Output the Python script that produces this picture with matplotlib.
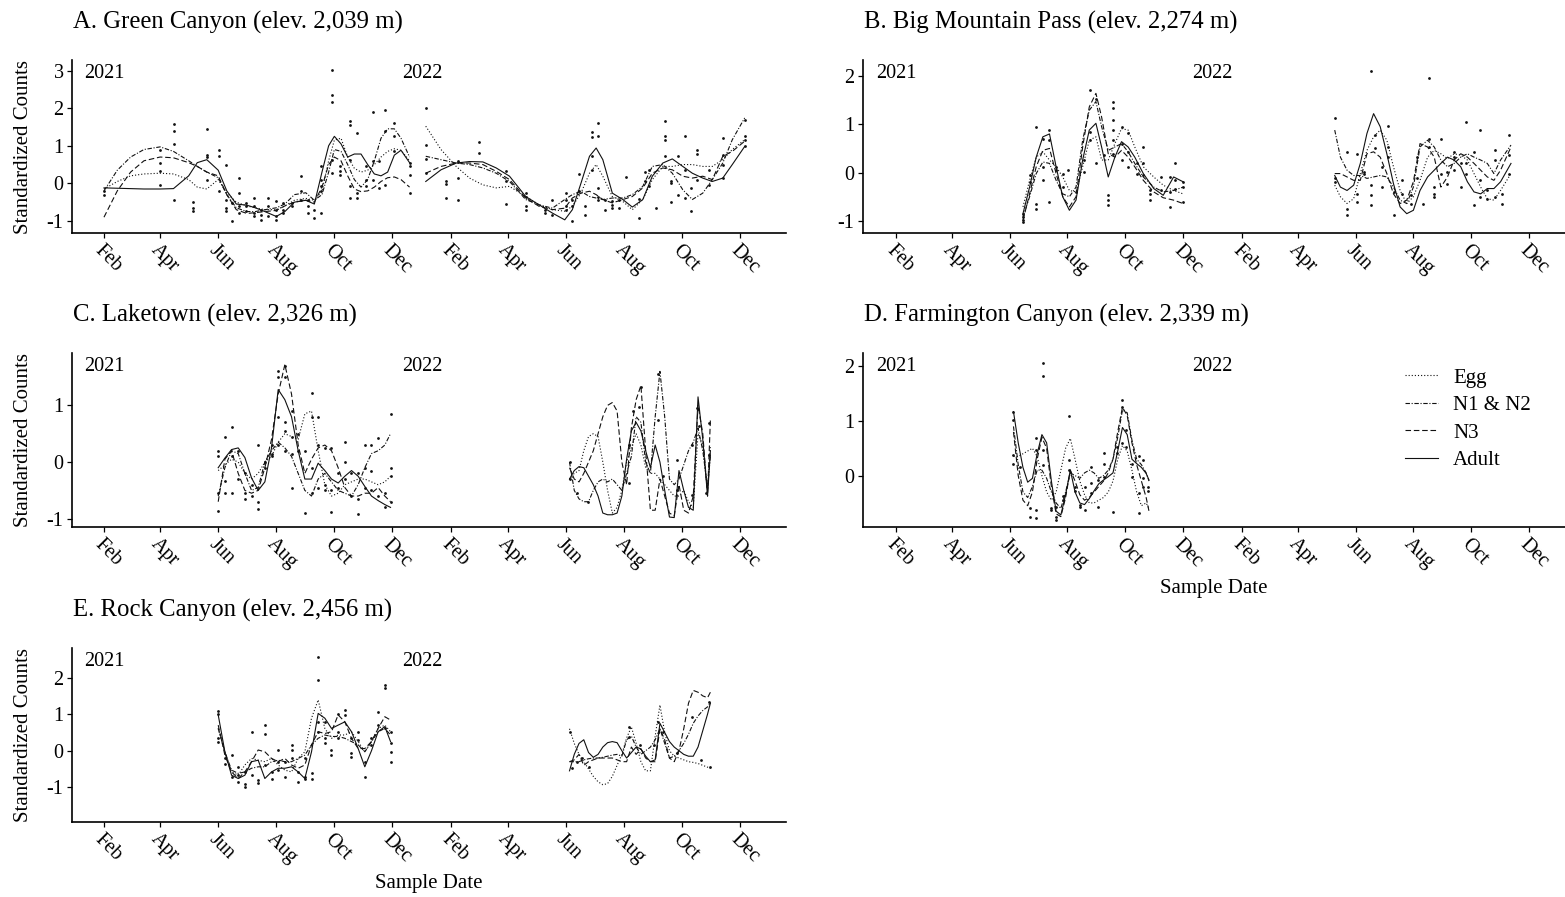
import pandas as pd
import matplotlib
matplotlib.use("Agg")
import matplotlib.pyplot as plt
import matplotlib.dates as mdates
from matplotlib.lines import Line2D

plt.rcParams["font.family"] = ["Liberation Serif", "DejaVu Serif"]
plt.rcParams["axes.unicode_minus"] = False

STAGES = ["Egg", "N1 & N2", "N3", "Adult"]

# ---------------- A. Green Canyon ----------------
A_days_21 = ["02-01", "02-15", "03-01", "03-15", "04-01", "04-15", "05-01", "05-10", "05-20", "06-01",
             "06-10", "06-20", "07-01", "07-10", "07-20", "08-01", "08-10", "08-20", "09-01", "09-10",
             "09-18", "09-25", "10-01", "10-08", "10-15", "10-22", "10-29", "11-05", "11-12", "11-19",
             "11-26", "12-03", "12-10", "12-19"]
A_egg_21 = [-0.15, 0.05, 0.2, 0.25, 0.27, 0.25, 0.1, -0.1, -0.15, 0.1,
            -0.25, -0.5, -0.6, -0.65, -0.7, -0.7, -0.6, -0.45, -0.4, -0.45,
            -0.2, 0.6, 1.15, 1.2, 0.7, 0.4, 0.3, 0.35, 0.5, 0.7,
            0.85, 0.92, 0.88, 0.6]
A_n12_21 = [-0.2, 0.35, 0.7, 0.9, 0.97, 0.85, 0.6, 0.45, 0.3, 0.15,
            -0.3, -0.65, -0.75, -0.75, -0.7, -0.65, -0.55, -0.3, -0.25, -0.45,
            -0.3, 0.3, 0.9, 0.85, 0.5, 0.1, -0.1, 0.1, 0.6, 1.2,
            1.45, 1.45, 1.2, 0.7]
A_n3_21 = [-0.9, -0.2, 0.3, 0.6, 0.7, 0.68, 0.55, 0.45, 0.3, 0.2,
           -0.3, -0.7, -0.8, -0.78, -0.75, -0.72, -0.6, -0.5, -0.45, -0.5,
           -0.1, 0.5, 0.7, 0.6, 0.2, -0.15, -0.22, -0.2, -0.1, 0.05,
           0.15, 0.17, 0.1, -0.1]
A_adult_21 = [-0.12, -0.13, -0.14, -0.15, -0.15, -0.14, 0.2, 0.55, 0.63, 0.35,
              -0.2, -0.55, -0.58, -0.65, -0.75, -0.88, -0.75, -0.5, -0.45, -0.55,
              0.3, 1.0, 1.25, 1.05, 0.7, 0.78, 0.78, 0.5, 0.25, 0.2,
              0.3, 0.75, 0.88, 0.55]

A_days_22 = ["01-05", "01-21", "02-06", "02-20", "03-06", "03-20", "04-03", "04-20", "05-04", "05-18",
             "05-31", "06-08", "06-17", "06-26", "07-03", "07-10", "07-20", "07-31", "08-10", "08-21",
             "08-31", "09-11", "09-21", "10-02", "10-12", "10-23", "11-02", "11-13", "11-23", "12-06"]
A_egg_22 = [1.52, 0.9, 0.45, 0.14, -0.04, -0.12, -0.08, -0.35, -0.57, -0.7,
            -0.74, -0.61, -0.26, 0.27, 0.5, 0.19, -0.35, -0.48, -0.7, -0.43,
            0.1, 0.45, 0.45, 0.5, 0.5, 0.45, 0.45, 0.63, 0.9, 1.16]
A_n12_22 = [0.72, 0.63, 0.54, 0.5, 0.41, 0.27, 0.05, -0.43, -0.57, -0.66,
            -0.43, -0.3, -0.21, -0.35, -0.39, -0.43, -0.39, -0.39, -0.3, -0.08,
            0.45, 0.5, 0.27, -0.17, -0.43, -0.26, 0.1, 0.54, 1.16, 1.74]
A_n3_22 = [0.27, 0.45, 0.54, 0.54, 0.5, 0.32, 0.1, -0.39, -0.61, -0.7,
           -0.66, -0.39, -0.26, -0.21, -0.3, -0.43, -0.52, -0.43, -0.35, -0.12,
           0.27, 0.41, 0.36, 0.19, 0.14, 0.19, 0.1, 0.72, 0.85, 1.12]
A_adult_22 = [0.05, 0.36, 0.54, 0.58, 0.57, 0.41, 0.19, -0.35, -0.57, -0.79,
              -0.97, -0.7, 0.0, 0.72, 0.94, 0.63, -0.26, -0.43, -0.63, -0.43,
              0.19, 0.54, 0.65, 0.45, 0.27, 0.14, 0.05, 0.14, 0.5, 0.98]

A_pt_days_21 = ["02-01", "04-01", "04-16", "05-06", "05-20", "06-02", "06-09", "06-16", "06-23", "06-30",
                "07-09", "07-16", "07-23", "08-01", "08-08", "08-18", "08-27", "09-03", "09-10", "09-17",
                "09-29", "10-07", "10-17", "10-25", "11-03", "11-11", "11-17", "11-23", "12-03", "12-19"]
A_pt_vals_21 = [[-0.21, -0.30], [0.9, 0.54, 0.32, -0.05], [1.59, 1.40, 1.05, -0.43], [-0.5, -0.66, -0.74],
                [1.45, 0.76, 0.70, 0.08], [0.9, 0.74, -0.21], [0.5, -0.43, -0.66, -0.74], [-1.01, -0.52],
                [0.14, -0.26, -0.61, -0.79], [-0.52, -0.61, -0.74], [-0.39, -0.61, -0.79, -0.88],
                [-0.7, -0.83, -0.97], [-0.39, -0.61, -0.88], [-0.48, -0.7, -0.88, -0.97], [-0.52, -0.7, -0.79],
                [-0.52, -0.61], [0.2, -0.21, -0.43], [-0.43, -0.61, -0.79], [-0.7, -0.92],
                [0.45, 0.1, -0.08, -0.21, -0.79], [3.02, 2.36, 2.15, 0.63, 0.27], [0.45, 0.34, 0.23],
                [1.65, 1.56, 0.63, -0.08, -0.39], [1.34, -0.26, -0.39], [0.45, 0.1, -0.08], [1.89, 0.59, 0.1],
                [0.59, -0.12], [1.96, 1.38, -0.04], [1.6, 1.25, 0.85], [0.54, 0.45, 0.23, -0.26]]
A_pt_days_22 = ["01-05", "01-26", "02-08", "03-02", "03-30", "04-20", "05-10", "05-18", "06-01", "06-08",
                "06-15", "06-21", "06-29", "07-05", "07-12", "07-20", "07-27", "08-03", "08-17", "08-23",
                "08-28", "09-04", "09-13", "09-20", "09-27", "10-04", "10-11", "10-17", "10-30", "11-13",
                "12-06"]
A_pt_vals_22 = [[2.0, 1.03, 0.65, 0.27], [0.05, -0.01, -0.39], [0.59, 0.14, -0.43], [1.09, 0.81],
                [0.32, 0.05, -0.54], [-0.26, -0.35, -0.61, -0.72], [-0.7, -0.79], [-0.43, -0.83],
                [-0.26, -0.43, -0.61, -0.7], [-0.43, -0.61, -1.01], [0.25, -0.21], [-0.61, -0.83],
                [1.36, 1.23, 0.72, 0.36], [1.6, 1.27, -0.12, -0.35, -0.43], [-0.43, -0.7],
                [-0.48, -0.57, -0.66], [-0.43, -0.66], [0.17], [-0.42, -0.92], [0.29, 0.05], [0.35, -0.08],
                [-0.66], [1.65, 1.25, 1.16, 0.74], [0.05, 0.01, -0.5], [0.74, -0.3], [1.27, 0.36, -0.39],
                [-0.12, -0.74], [0.9, 0.79, 0.1], [0.36, -0.04], [1.21, 0.76, 0.5, 0.14],
                [1.69, 1.27, 1.16, 0.98]]

# ---------------- B. Big Mountain Pass ----------------
B_days_21 = ["06-15", "06-22", "06-29", "07-06", "07-13", "07-20", "07-27", "08-03", "08-10", "08-17",
             "08-24", "08-31", "09-06", "09-13", "09-20", "09-27", "10-04", "10-11", "10-20", "10-31",
             "11-10", "11-21", "12-01"]
B_egg_21 = [-0.71, -0.16, 0.32, 0.43, 0.26, 0.12, -0.09, -0.37, -0.4, 0.12,
            0.67, 0.74, 0.26, 0.26, 0.6, 0.91, 0.88, 0.53, 0.12, -0.09,
            -0.26, -0.37, -0.44]
B_n12_21 = [-0.92, -0.5, -0.02, 0.22, 0.19, -0.16, -0.44, -0.5, -0.3, 0.67,
            1.29, 1.47, 0.95, 0.46, 0.53, 0.6, 0.43, 0.19, -0.09, -0.3,
            -0.4, -0.37, -0.3]
B_n3_21 = [-0.99, -0.44, 0.12, 0.46, 0.5, -0.02, -0.5, -0.71, -0.5, 0.53,
           1.36, 1.64, 1.15, 0.39, 0.32, 0.46, 0.32, 0.12, -0.16, -0.4,
           -0.52, -0.57, -0.64]
B_adult_21 = [-0.85, -0.3, 0.32, 0.74, 0.8, 0.12, -0.5, -0.78, -0.57, 0.26,
              0.88, 1.02, 0.53, -0.09, 0.32, 0.64, 0.53, 0.32, -0.02, -0.33,
              -0.47, -0.09, -0.19]

B_days_22 = ["05-10", "05-16", "05-23", "05-30", "06-06", "06-13", "06-20", "06-27", "07-04", "07-11",
             "07-18", "07-25", "08-01", "08-08", "08-16", "08-23", "08-30", "09-06", "09-13", "09-20",
             "09-27", "10-04", "10-11", "10-18", "10-25", "11-01", "11-12"]
B_egg_22 = [-0.26, -0.5, -0.64, -0.54, -0.02, 0.46, 0.74, 0.88, 0.67, 0.12,
            -0.37, -0.64, -0.5, -0.16, 0.32, 0.46, 0.39, 0.29, 0.39, 0.36,
            0.26, -0.02, -0.3, -0.54, -0.57, -0.37, -0.02]
B_n12_22 = [0.88, 0.32, 0.05, -0.06, -0.06, -0.12, -0.09, -0.06, -0.09, -0.3,
            -0.57, -0.64, -0.3, 0.53, 0.67, 0.53, 0.26, 0.12, 0.19, 0.32,
            0.39, 0.32, 0.26, 0.19, -0.02, 0.26, 0.57]
B_n3_22 = [-0.02, -0.02, -0.09, -0.16, -0.16, 0.39, 0.43, 0.32, -0.02, -0.44,
           -0.64, -0.57, -0.19, 0.6, 0.53, 0.32, -0.3, -0.09, 0.26, 0.39,
           0.32, 0.19, 0.05, -0.09, -0.16, 0.05, 0.53]
B_adult_22 = [-0.06, -0.3, -0.37, -0.26, 0.19, 0.81, 1.22, 0.95, 0.39, -0.23,
              -0.71, -0.85, -0.78, -0.37, -0.09, 0.05, 0.19, 0.32, 0.26, 0.12,
              -0.19, -0.4, -0.44, -0.33, -0.33, -0.19, 0.19]

B_pt_days_21 = ["06-15", "06-22", "06-29", "07-06", "07-13", "07-20", "07-27", "08-02", "08-10", "08-18",
                "08-25", "08-31", "09-08", "09-13", "09-18", "09-27", "10-04", "10-13", "10-20", "10-27",
                "11-08", "11-17", "11-22", "12-01"]
B_pt_vals_21 = [[-0.85, -0.92, -0.99, -1.02], [-0.06, -0.19], [0.95, -0.64, -0.75], [0.7, 0.12, -0.16],
                [0.89, 0.67, -0.61], [0.12, 0.05], [-0.02, -0.3], [0.05], [-0.4], [0.26, 0.01],
                [1.71, 0.84, 0.67], [1.53, 0.19], [0.36], [-0.47, -0.57, -0.68],
                [1.47, 1.33, 1.08, 0.88, 0.67, 0.39], [0.95, 0.6, 0.26], [0.81, 0.43, 0.12], [0.19, -0.02],
                [0.53, 0.19, -0.06], [-0.37, -0.44, -0.57], [-0.09, -0.37], [-0.09, -0.4, -0.71],
                [0.19, -0.16, -0.33], [-0.19, -0.3, -0.61]]
B_pt_days_22 = ["05-10", "05-23", "06-03", "06-10", "06-17", "06-22", "06-29", "07-05", "07-12", "07-20",
                "07-29", "08-05", "08-11", "08-17", "08-23", "08-30", "09-06", "09-13", "09-20", "09-26",
                "10-04", "10-10", "10-18", "10-26", "11-02", "11-10"]
B_pt_vals_22 = [[1.12, -0.12, -0.19], [0.43, -0.75, -0.88], [0.39, -0.44, -0.61], [0.01, -0.02],
                [2.1, -0.26, -0.47, -0.68], [0.77, 0.5], [0.12, -0.3], [0.96, 0.53, 0.32], [-0.88, -0.4],
                [-0.16, -0.44], [-0.47, -0.64], [0.32, -0.12], [-0.64], [1.96, 0.7, 0.53],
                [-0.3, -0.44, -0.5], [0.7, -0.02], [0.01, -0.23], [0.43, 0.32, 0.05], [0.19, -0.3],
                [1.05, 0.19, -0.02], [0.43, -0.68], [0.88, -0.16, -0.5], [-0.37, -0.54], [0.46, 0.26, -0.5],
                [-0.44, -0.64], [0.77, 0.36, -0.02]]

# ---------------- C. Laketown ----------------
C_days_21 = ["06-01", "06-08", "06-15", "06-22", "06-29", "07-06", "07-13", "07-20", "07-27", "08-03",
             "08-10", "08-17", "08-24", "08-31", "09-07", "09-14", "09-21", "09-28", "10-05", "10-12",
             "10-19", "10-26", "11-02", "11-09", "11-16", "11-23", "11-29"]
C_egg_21 = [-0.15, -0.05, 0.05, 0.0, -0.2, -0.3, -0.2, 0.0, 0.1, 0.35,
            0.5, 0.45, 0.4, 0.85, 0.9, 0.2, -0.4, -0.6, -0.55, -0.4,
            -0.35, -0.3, -0.3, -0.35, -0.4, -0.35, -0.25]
C_n12_21 = [-0.6, -0.1, 0.2, 0.15, -0.2, -0.5, -0.45, 0.0, 0.2, 0.35,
            0.25, 0.1, -0.2, -0.5, -0.6, -0.3, -0.2, -0.35, -0.5, -0.55,
            -0.6, -0.4, -0.1, 0.15, 0.2, 0.3, 0.5]
C_n3_21 = [-0.7, 0.05, 0.2, -0.2, -0.5, -0.55, -0.5, -0.1, 0.4, 1.2,
           1.72, 1.2, 0.3, -0.2, 0.05, 0.25, 0.3, 0.2, -0.1, -0.45,
           -0.6, -0.6, -0.55, -0.55, -0.45, -0.6, -0.7]
C_adult_21 = [-0.1, 0.07, 0.22, 0.25, 0.08, -0.28, -0.5, -0.35, 0.25, 1.28,
              1.1, 0.8, 0.2, -0.3, -0.3, -0.02, -0.15, -0.3, -0.37, -0.25,
              -0.15, -0.25, -0.43, -0.6, -0.68, -0.75, -0.8]

C_days_22 = ["06-05", "06-10", "06-15", "06-20", "06-25", "06-30", "07-05", "07-10", "07-15", "07-20",
             "07-25", "07-30", "08-04", "08-09", "08-14", "08-19", "08-24", "08-29", "09-03", "09-08",
             "09-13", "09-18", "09-23", "09-28", "10-03", "10-08", "10-13", "10-18", "10-23", "10-28",
             "10-31"]
C_egg_22 = [-0.3, -0.2, -0.15, 0.2, 0.45, 0.5, 0.45, 0.0, -0.5, -0.9,
            -0.8, -0.5, 0.0, 0.25, 0.5, 0.3, -0.1, -0.2, -0.2, -0.3,
            -0.4, -0.5, -0.6, -0.6, -0.5, -0.7, -0.8, 0.5, 0.3, -0.5,
            0.3]
C_n12_22 = [0.0, -0.5, -0.65, -0.7, -0.7, -0.5, -0.35, -0.3, -0.35, -0.3,
            -0.4, -0.5, -0.2, 0.1, 0.8, 0.7, 0.0, -0.2, 0.8, 1.6,
            0.8, -0.3, -0.4, -0.3, -0.05, 0.2, 0.35, 0.6, 0.2, -0.45,
            0.1]
C_n3_22 = [-0.1, -0.3, -0.35, -0.2, 0.0, 0.2, 0.5, 0.8, 1.0, 1.05,
           0.9, 0.0, -0.4, 0.6, 1.1, 1.35, 0.2, -0.85, -0.85, -0.3,
           -0.6, -0.9, -0.95, -0.4, -0.85, -0.9, -0.6, 1.0, 0.5, -0.6,
           0.75]
C_adult_22 = [-0.3, -0.15, -0.08, -0.1, -0.25, -0.4, -0.6, -0.9, -0.93, -0.93,
              -0.9, -0.6, 0.05, 0.55, 0.7, 0.55, 0.2, -0.1, 0.3, 0.0,
              -0.5, -0.97, -0.98, -0.15, -0.5, -0.8, -0.85, 1.15, 0.4, -0.6,
              0.2]

C_pt_days_21 = C_days_21
C_pt_vals_21 = [[0.2, 0.1, -0.55, -0.86], [0.45, -0.34, -0.55], [0.62, 0.1, -0.55], [0.2, -0.3],
                [-0.2, -0.55, -0.65], [-0.4, -0.6], [0.3, -0.7, -0.82], [0.0, -0.1], [0.3, 0.15, 0.1],
                [1.6, 1.5, 0.8, 0.3], [1.7, 1.5, 0.7, 0.55, 0.2], [0.9, 0.45, 0.15, -0.45], [0.5, 0.2],
                [0.2, -0.9], [1.22, 0.8, -0.1, -0.55], [0.8, 0.3, -0.45], [0.25, -0.4, -0.5],
                [0.25, -0.5, -0.88], [-0.2, -0.45], [0.35, 0.0, -0.3], [-0.2, -0.6], [-0.2, -0.65, -0.92],
                [0.3, -0.1, -0.45], [0.3, -0.15, -0.5], [0.42, -0.6], [-0.55, -0.8], [0.85, -0.1, -0.25, -0.7]]
C_pt_days_22 = ["06-06", "06-13", "06-24", "08-07", "08-11", "08-17", "08-19", "09-06", "09-11", "09-26",
                "10-12", "10-17", "10-19", "10-26", "10-30"]
C_pt_vals_22 = [[-0.3, 0.0], [-0.55], [-0.7], [-0.37, 0.3], [0.9], [0.98], [1.33], [0.75, 1.55], [-0.25],
                [0.04, -0.49], [-0.58, 0.3], [0.95], [0.63], [-0.55], [0.13, 0.69]]

# ---------------- D. Farmington Canyon ----------------
D_days_21 = ["06-05", "06-10", "06-15", "06-20", "06-25", "06-30", "07-05", "07-10", "07-15", "07-20",
             "07-25", "07-30", "08-04", "08-09", "08-14", "08-19", "08-24", "08-29", "09-03", "09-08",
             "09-13", "09-18", "09-23", "09-28", "10-03", "10-08", "10-13", "10-18", "10-23", "10-26"]
D_egg_21 = [0.35, 0.35, 0.4, 0.45, 0.5, 0.35, 0.0, -0.3, -0.45, -0.3,
            0.1, 0.5, 0.68, 0.3, -0.1, -0.35, -0.5, -0.5, -0.45, -0.4,
            -0.3, -0.1, 0.3, 0.55, 0.45, 0.1, -0.3, -0.55, -0.5, -0.6]
D_n12_21 = [0.9, 0.2, -0.3, -0.4, -0.2, 0.1, 0.1, -0.05, -0.3, -0.5,
            -0.6, -0.3, 0.05, 0.0, -0.05, 0.05, 0.1, 0.05, -0.05, 0.0,
            0.1, 0.3, 0.7, 1.2, 1.15, 0.65, 0.3, 0.2, 0.05, -0.1]
D_n3_21 = [0.8, 0.0, -0.45, -0.55, -0.3, 0.3, 0.7, 0.5, -0.2, -0.7,
           -0.75, -0.4, 0.1, -0.1, -0.35, -0.45, -0.4, -0.3, -0.2, -0.1,
           0.05, 0.3, 0.8, 1.25, 1.1, 0.6, 0.2, -0.1, -0.4, -0.65]
D_adult_21 = [1.17, 0.6, 0.15, -0.12, -0.05, 0.4, 0.75, 0.6, -0.1, -0.65,
              -0.72, -0.35, 0.1, -0.3, -0.5, -0.53, -0.42, -0.28, -0.15, -0.08,
              -0.02, 0.05, 0.45, 0.88, 0.75, 0.3, 0.22, 0.15, 0.04, -0.08]

D_pt_days_21 = ["06-05", "06-12", "06-22", "06-29", "07-06", "07-15", "07-20", "07-27", "08-03", "08-09",
                "08-14", "08-19", "08-26", "09-02", "09-09", "09-18", "09-22", "09-27", "10-02", "10-08",
                "10-15", "10-20", "10-25"]
D_pt_vals_21 = [[1.17, 1.02, 0.38, 0.22], [0.16], [-0.6, -0.75], [0.68, 0.47, -0.63, -0.78],
                [2.06, 1.82, 0.47, 0.19], [-0.6, -0.63], [-0.57, -0.75, -0.81], [-0.44, -0.38],
                [1.09, 0.29, 0.1], [-0.2, -0.29], [-0.53, -0.57], [-0.2, -0.63], [0.16, -0.14, -0.32],
                [-0.57, -0.08], [0.41, 0.22, -0.02], [-0.66], [0.53, 0.41], [1.38, 1.26, 0.59],
                [0.83, 0.53], [0.22, -0.02], [0.35, -0.32, -0.69], [0.29, -0.05, -0.2], [-0.2, -0.29]]

# ---------------- E. Rock Canyon ----------------
E_days_21 = C_days_21
E_egg_21 = [0.61, -0.03, -0.58, -0.67, -0.39, -0.21, -0.26, -0.3, -0.21, -0.39,
            -0.53, -0.58, -0.21, -0.03, 0.89, 1.39, 0.61, 0.34, 0.43, 0.43,
            0.52, 0.25, -0.03, 0.25, 0.61, 0.7, 0.52]
E_n12_21 = [0.61, -0.03, -0.53, -0.62, -0.58, -0.48, -0.44, -0.44, -0.3, -0.26,
            -0.3, -0.3, -0.21, -0.12, 0.16, 0.34, 0.43, 0.39, 0.39, 0.34,
            0.25, 0.16, -0.03, 0.25, 0.52, 0.61, 0.43]
E_n3_21 = [0.7, -0.12, -0.58, -0.76, -0.58, -0.3, 0.02, -0.03, -0.21, -0.3,
           -0.21, -0.39, -0.48, -0.39, 0.16, 0.52, 0.47, 0.52, 0.98, 0.79,
           0.34, 0.06, 0.06, 0.25, 0.61, 0.93, 0.84]
E_adult_21 = [0.98, -0.03, -0.67, -0.76, -0.67, -0.3, -0.26, -0.76, -0.58, -0.48,
              -0.48, -0.44, -0.58, -0.76, -0.03, 1.02, 0.89, 0.61, 0.7, 0.79,
              0.52, 0.06, -0.44, 0.0, 0.52, 0.66, 0.25]

E_days_22 = C_days_22
E_egg_22 = [0.6, 0.2, -0.1, -0.3, -0.5, -0.7, -0.85, -0.93, -0.9, -0.7,
            -0.4, -0.1, 0.35, 0.65, 0.2, -0.3, -0.55, -0.55, 0.4, 1.25,
            0.5, 0.0, -0.15, -0.2, -0.25, -0.3, -0.32, -0.35, -0.4, -0.45,
            -0.48]
E_n12_22 = [-0.3, -0.3, -0.3, -0.25, -0.22, -0.2, -0.2, -0.18, -0.15, -0.12,
            -0.1, -0.15, 0.3, 0.4, 0.1, -0.1, 0.0, 0.1, 0.3, 0.6,
            0.2, -0.2, -0.15, 0.0, 0.2, 0.45, 0.75, 0.95, 1.1, 1.2,
            1.3]
E_n3_22 = [-0.3, -0.25, -0.1, -0.4, -0.3, -0.25, -0.2, -0.2, -0.2, -0.2,
           -0.25, -0.3, -0.3, 0.1, -0.1, 0.05, -0.2, -0.3, -0.3, 0.6,
           0.3, -0.2, -0.3, 0.0, 0.6, 1.3, 1.65, 1.6, 1.5, 1.45,
           1.6]
E_adult_22 = [-0.55, -0.1, 0.2, 0.3, -0.05, -0.18, -0.1, 0.1, 0.22, 0.25,
              0.22, 0.0, -0.2, -0.05, 0.1, 0.05, -0.15, -0.3, -0.25, 0.75,
              0.5, 0.25, 0.1, 0.0, -0.1, -0.15, -0.15, 0.1, 0.55, 1.0,
              1.3]

E_pt_days_21 = E_days_21
E_pt_vals_21 = [[1.09, 1.0, 0.34, 0.25], [-0.21, -0.35], [-0.12, -0.71], [-0.44, -0.67, -0.85],
                [-0.9, -0.99, -0.58], [0.52, -0.67], [-0.8, -0.89], [0.7, 0.47, -0.39], [-0.58, -0.76],
                [0.02, -0.3, -0.53], [-0.3, -0.71], [0.16, 0.02, -0.21], [-0.58, -0.85], [-0.21, -0.71, -0.76],
                [-0.62, -0.76], [2.56, 1.94, 0.79, 0.52], [0.79, 0.34, 0.2], [0.02, -0.12], [1.0, 0.52, 0.34],
                [1.11, 0.98], [0.34, -0.07, -0.16], [0.52, 0.29], [-0.71, -0.3], [0.34, 0.16], [1.07, 0.7],
                [1.8, 1.71, 0.61], [0.52, 0.2, -0.03, -0.3]]
E_pt_days_22 = ["06-06", "06-08", "06-13", "06-18", "06-26", "08-07", "08-18", "09-02", "09-06", "09-11",
                "09-26", "10-12", "10-21", "10-30", "10-31"]
E_pt_vals_22 = [[0.52], [-0.48], [-0.3], [-0.21], [-0.44], [0.66, 0.38], [0.16], [0.16], [0.79], [0.52],
                [-0.07], [0.93], [-0.26], [1.34], [-0.44]]

TITLES = ["A. Green Canyon (elev. 2,039 m)", "B. Big Mountain Pass (elev. 2,274 m)",
          "C. Laketown (elev. 2,326 m)", "D. Farmington Canyon (elev. 2,339 m)",
          "E. Rock Canyon (elev. 2,456 m)"]
YEAR_LABELS = ["2021", "2022"]
MONTH_TICKS = [2, 4, 6, 8, 10, 12]

# ---------------------------------------------------------------
INK = "#111111"
LINESTYLES = {"Egg": (0, (1, 1.8)), "N1 & N2": (0, (4, 1.5, 1, 1.5)),
              "N3": (0, (5, 2.5)), "Adult": "solid"}
W, H = 1565, 897
FS_TICK = 14.5
FS_LAB = 15

fig = plt.figure(figsize=(W / 100, H / 100), dpi=100)


def px_axes(left, top, right, bottom):
    return fig.add_axes([left / W, 1 - bottom / H, (right - left) / W, (bottom - top) / H])


def stamp(year, days):
    return pd.to_datetime([f"{year}-{d}" for d in days])


panels = [
    dict(box=(72, 60, 786, 233), ylim=(-1.32, 3.28), yticks=[-1, 0, 1, 2, 3], col=0,
         segs=[(2021, A_days_21, [A_egg_21, A_n12_21, A_n3_21, A_adult_21]),
               (2022, A_days_22, [A_egg_22, A_n12_22, A_n3_22, A_adult_22])],
         pts=[(2021, A_pt_days_21, A_pt_vals_21), (2022, A_pt_days_22, A_pt_vals_22)]),
    dict(box=(863, 60, 1565, 233), ylim=(-1.25, 2.33), yticks=[-1, 0, 1, 2], col=1,
         segs=[(2021, B_days_21, [B_egg_21, B_n12_21, B_n3_21, B_adult_21]),
               (2022, B_days_22, [B_egg_22, B_n12_22, B_n3_22, B_adult_22])],
         pts=[(2021, B_pt_days_21, B_pt_vals_21), (2022, B_pt_days_22, B_pt_vals_22)]),
    dict(box=(72, 353, 786, 527), ylim=(-1.146, 1.924), yticks=[-1, 0, 1], col=0,
         segs=[(2021, C_days_21, [C_egg_21, C_n12_21, C_n3_21, C_adult_21]),
               (2022, C_days_22, [C_egg_22, C_n12_22, C_n3_22, C_adult_22])],
         pts=[(2021, C_pt_days_21, C_pt_vals_21), (2022, C_pt_days_22, C_pt_vals_22)]),
    dict(box=(863, 353, 1565, 527), ylim=(-0.94, 2.243), yticks=[0, 1, 2], col=1,
         segs=[(2021, D_days_21, [D_egg_21, D_n12_21, D_n3_21, D_adult_21])],
         pts=[(2021, D_pt_days_21, D_pt_vals_21)]),
    dict(box=(72, 648, 786, 822), ylim=(-1.95, 2.81), yticks=[-1, 0, 1, 2], col=0,
         segs=[(2021, E_days_21, [E_egg_21, E_n12_21, E_n3_21, E_adult_21]),
               (2022, E_days_22, [E_egg_22, E_n12_22, E_n3_22, E_adult_22])],
         pts=[(2021, E_pt_days_21, E_pt_vals_21), (2022, E_pt_days_22, E_pt_vals_22)]),
]

XLIMS = [(pd.Timestamp("2020-12-29 10:00"), pd.Timestamp("2023-01-18 10:00")),
         (pd.Timestamp("2020-12-28 05:00"), pd.Timestamp("2023-01-08 00:00"))]

axes = []
for i, p in enumerate(panels):
    ax = px_axes(*p["box"])
    axes.append(ax)
    for year, days, series in p["segs"]:
        x = stamp(year, days)
        for stage, vals in zip(STAGES, series):
            ax.plot(x, vals, ls=LINESTYLES[stage], color=INK, lw=0.8)
    xs, ys = [], []
    for year, days, groups in p["pts"]:
        for d, vs in zip(days, groups):
            for v in vs:
                xs.append(pd.Timestamp(f"{year}-{d}"))
                ys.append(v)
    ax.scatter(xs, ys, s=4, color=INK, linewidths=0, zorder=3)

    ax.set_xlim(*XLIMS[p["col"]])
    ax.set_ylim(*p["ylim"])
    ax.set_yticks(p["yticks"])
    ax.set_yticklabels([str(t) for t in p["yticks"]])
    ax.xaxis.set_major_locator(mdates.MonthLocator(bymonth=MONTH_TICKS))
    ax.xaxis.set_major_formatter(mdates.DateFormatter("%b"))
    for side in ("top", "right"):
        ax.spines[side].set_visible(False)
    for side in ("left", "bottom"):
        ax.spines[side].set_linewidth(1.2)
        ax.spines[side].set_color("black")
    ax.tick_params(axis="both", length=3.6, width=0.9, color="black", labelsize=FS_TICK,
                   labelcolor="black")
    ax.tick_params(axis="y", pad=2.5)
    ax.tick_params(axis="x", pad=2.0)
    for lab in ax.get_xticklabels():
        lab.set_rotation(-45)
        lab.set_ha("left")
        lab.set_va("top")
        lab.set_rotation_mode("anchor")

    ax.annotate(TITLES[i], xy=(0, 1), xycoords="axes fraction", xytext=(1, 22.5),
                textcoords="offset points", ha="left", va="baseline", fontsize=17.8)
    for lab, when in zip(YEAR_LABELS, ["2021-02-01", "2022-01-01"]):
        ax.annotate(lab, xy=(pd.Timestamp(when), 1), xycoords=("data", "axes fraction"),
                    xytext=(0, -13), textcoords="offset points", ha="center", va="baseline",
                    fontsize=FS_TICK)

    left, top, right, bottom = p["box"]
    if p["col"] == 0:
        fig.text(24 / W, 1 - (top + bottom) / 2 / H, "Standardized Counts", rotation=90,
                 ha="center", va="center", fontsize=FS_LAB)

# x-axis titles under the bottom panel of each column
for box in (panels[3]["box"], panels[4]["box"]):
    left, top, right, bottom = box
    fig.text((left + right) / 2 / W, 1 - (bottom + 61) / H, "Sample Date",
             ha="center", va="center", fontsize=FS_LAB)

handles = [Line2D([], [], color=INK, lw=0.8, ls=LINESTYLES[s]) for s in STAGES]
fig.legend(handles, STAGES, loc="upper left", bbox_to_anchor=(1405 / W, 1 - 368 / H),
           frameon=False, fontsize=FS_LAB, handlelength=1.6, handletextpad=0.7,
           labelspacing=0.38, borderpad=0, borderaxespad=0)

fig.savefig("out.png", dpi=100)
